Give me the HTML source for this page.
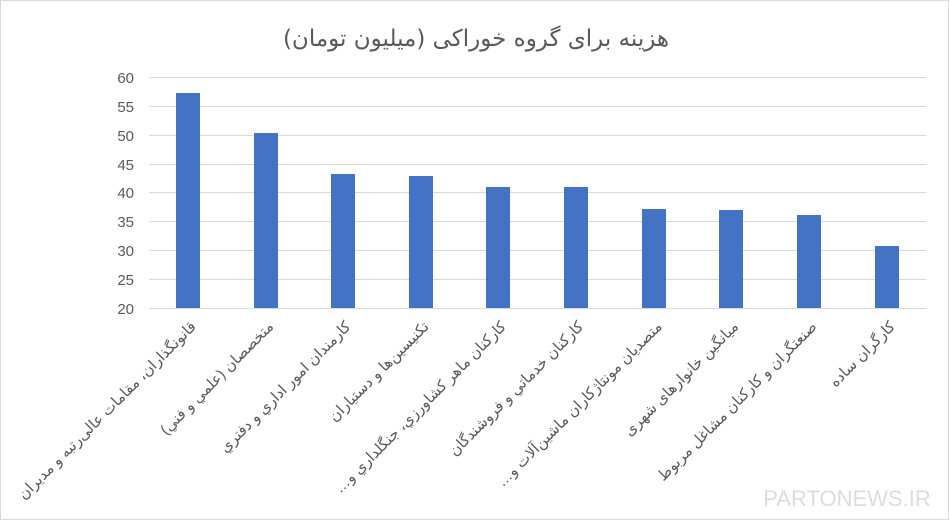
<!DOCTYPE html>
<html><head><meta charset="utf-8"><style>
body{margin:0;background:#fff;}
#c{position:relative;width:947px;height:518px;border:1px solid #d9d9d9;overflow:hidden;font-family:"Liberation Sans","DejaVu Sans",sans-serif;}
.lab{position:absolute;white-space:nowrap;font-size:15px;color:#595959;direction:rtl;transform-origin:100% 0;transform:rotate(-45deg);line-height:15px;}
</style></head><body><div id="c">
<svg width="947" height="518" style="position:absolute;left:0;top:0">
<text x="475" y="45" text-anchor="middle" font-size="23" fill="#595959" font-family="DejaVu Sans,sans-serif" direction="rtl">هزینه برای گروه خوراکی (میلیون تومان)</text>
<g stroke="#d9d9d9" stroke-width="1">
<line x1="148" x2="925" y1="76.5" y2="76.5"/><line x1="148" x2="925" y1="105.5" y2="105.5"/>
<line x1="148" x2="925" y1="134.5" y2="134.5"/><line x1="148" x2="925" y1="163.5" y2="163.5"/>
<line x1="148" x2="925" y1="191.5" y2="191.5"/><line x1="148" x2="925" y1="220.5" y2="220.5"/>
<line x1="148" x2="925" y1="249.5" y2="249.5"/><line x1="148" x2="925" y1="278.5" y2="278.5"/>
<line x1="148" x2="925" y1="307.5" y2="307.5"/>
</g>
<g font-size="15" fill="#595959" text-anchor="end">
<text x="133" y="82">60</text><text x="133" y="111">55</text><text x="133" y="140">50</text>
<text x="133" y="169">45</text><text x="133" y="197">40</text><text x="133" y="226">35</text>
<text x="133" y="255">30</text><text x="133" y="284">25</text><text x="133" y="313">20</text>
</g>
<g fill="#4472c4">
<rect x="175" y="92" width="24" height="215"/>
<rect x="253" y="132" width="24" height="175"/>
<rect x="330" y="173" width="24" height="134"/>
<rect x="408" y="175" width="24" height="132"/>
<rect x="485" y="186" width="24" height="121"/>
<rect x="563" y="186" width="24" height="121"/>
<rect x="641" y="208" width="24" height="99"/>
<rect x="718" y="209" width="24" height="98"/>
<rect x="796" y="214" width="24" height="93"/>
<rect x="874" y="245" width="24" height="62"/>
</g>
<text x="846" y="505" text-anchor="middle" font-size="22" fill="#dcdcdc">PARTONEWS.IR</text>
</svg>
<div class="lab" style="right:760px;top:318px">قانونگذاران، مقامات عالی‌رتبه و مدیران</div>
<div class="lab" style="right:682px;top:318px">متخصصان (علمي و فني)</div>
<div class="lab" style="right:605px;top:318px">کارمندان امور  اداري و دفتري</div>
<div class="lab" style="right:527px;top:318px">تکنیسین‌ها و دستیاران</div>
<div class="lab" style="right:450px;top:318px">کارکنان ماهر کشاورزي، جنگلداري و…</div>
<div class="lab" style="right:372px;top:318px">کارکنان خدماتي و فروشندگان</div>
<div class="lab" style="right:294px;top:318px">متصدیان مونتاژکاران ماشین‌آلات و…</div>
<div class="lab" style="right:217px;top:318px">میانگین خانوارهای شهری</div>
<div class="lab" style="right:139px;top:318px">صنعتگران و کارکنان مشاغل مربوط</div>
<div class="lab" style="right:61px;top:318px">کارگران ساده</div>
</div></body></html>
